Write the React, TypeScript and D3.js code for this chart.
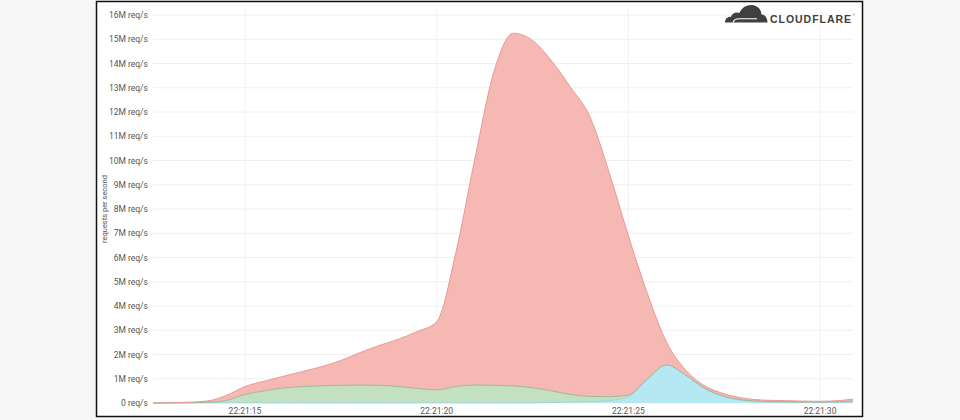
import React from "react";
import * as d3 from "d3";

// seconds after 22:21:00
const times: number[] = [12.6, 13.0, 13.5, 14.0, 14.5, 15.0, 15.5, 16.0, 16.5, 17.0, 17.5, 18.0, 18.5, 19.0, 19.5, 20.0, 20.5, 21.0, 21.5, 22.0, 22.5, 23.0, 23.5, 24.0, 24.5, 25.0, 25.5, 26.0, 26.5, 27.0, 27.5, 28.0, 28.5, 29.0, 29.5, 30.0, 30.5, 30.86];

// millions of requests per second, per layer (stacked bottom -> top)
const blueSeries: number[] = [0, 0, 0.005, 0.01, 0.01, 0.01, 0.01, 0.01, 0.01, 0.01, 0.01, 0.01, 0.01, 0.01, 0.01, 0.01, 0.01, 0.01, 0.01, 0.01, 0.01, 0.02, 0.04, 0.06, 0.1, 0.25, 0.97, 1.56, 1.14, 0.58, 0.26, 0.1, 0.05, 0.03, 0.03, 0.03, 0.03, 0.04];
const greenSeries: number[] = [0, 0.005, 0.005, 0.02, 0.09, 0.34, 0.49, 0.61, 0.67, 0.7, 0.72, 0.73, 0.72, 0.67, 0.59, 0.53, 0.67, 0.73, 0.72, 0.69, 0.62, 0.48, 0.31, 0.21, 0.16, 0.08, 0.03, 0.01, 0.01, 0.02, 0.02, 0.02, 0.02, 0.02, 0.01, 0.01, 0.02, 0.04];
const redSeries: number[] = [0, 0.005, 0.02, 0.05, 0.2, 0.33, 0.4, 0.48, 0.62, 0.79, 1.02, 1.34, 1.64, 1.95, 2.35, 2.81, 5.52, 9.36, 12.97, 14.55, 14.32, 13.6, 12.65, 11.53, 9.24, 6.57, 3.5, 0.93, 0.2, 0.1, 0.1, 0.08, 0.05, 0.05, 0.04, 0.03, 0.05, 0.08];

const yTicks: number[] = [0, 1, 2, 3, 4, 5, 6, 7, 8, 9, 10, 11, 12, 13, 14, 15, 16];
const xTickSeconds: number[] = [15, 20, 25, 30];
const yTitle = "requests per second";
const brand = "CLOUDFLARE";

const base = new Date(2020, 0, 1, 22, 21, 0).getTime();
const toDate = (s: number) => new Date(base + s * 1000);

type Row = { date: Date; blue: number; green: number; red: number };

export default function App() {
  const W = 960, H = 420;
  const x = d3.scaleTime().domain([toDate(times[0]), toDate(times[times.length - 1])]).range([153, 853]);
  const y = d3.scaleLinear().domain([0, 16]).range([403, 15]);
  const rows: Row[] = times.map((t, i) => ({ date: toDate(t), blue: blueSeries[i], green: greenSeries[i], red: redSeries[i] }));
  const keys = ["blue", "green", "red"] as const;
  const stack = d3.stack<Row>().keys(keys as unknown as string[]);
  const layers = stack(rows);
  const area = d3.area<any>().x((d) => x(d.data.date)).y0((d) => y(d[0])).y1((d) => y(d[1])).curve(d3.curveMonotoneX);
  const line = d3.line<any>().x((d) => x(d.data.date)).y((d) => y(d[1])).curve(d3.curveMonotoneX);
  const fills: Record<string, string> = { blue: "#b6e8f3", green: "#c3e0bf", red: "#f5b8b3" };
  const strokes: Record<string, string> = { blue: "#9fd3df", green: "#9fb89a", red: "#e99a94" };
  const fmt = d3.timeFormat("%H:%M:%S");
  const font = "Roboto, 'Liberation Sans', Arial, sans-serif";

  return (
    <div style={{ position: "absolute", left: 0, top: 0, width: W, height: H }}>
      <svg width={W} height={H} style={{ display: "block" }}>
        <rect x={0} y={0} width={W} height={H} fill="#f6f6f6" />
        <rect x={96.5} y={1.5} width={766} height={415} fill="#ffffff" stroke="#111" strokeWidth={1.5} />
        {/* grid */}
        {yTicks.map((v) => (
          <line key={"gy" + v} x1={153} x2={853} y1={y(v)} y2={y(v)} stroke="#f0f0f0" strokeWidth={1} />
        ))}
        {xTickSeconds.map((s) => (
          <line key={"gx" + s} x1={x(toDate(s))} x2={x(toDate(s))} y1={8} y2={403} stroke="#f2f2f2" strokeWidth={1} />
        ))}
        {/* areas */}
        {layers.map((layer) => (
          <path key={"a" + layer.key} d={area(layer as any) || ""} fill={fills[layer.key]} />
        ))}
        {layers.map((layer) => (
          <path key={"l" + layer.key} d={line(layer as any) || ""} fill="none" stroke={strokes[layer.key]} strokeWidth={1} />
        ))}
        {/* y labels */}
        {yTicks.map((v) => (
          <text key={"ty" + v} x={148} y={y(v) + 3} textAnchor="end" fontSize={8.5} fill="#555" fontFamily={font}>
            {v === 0 ? "0 req/s" : `${v}M req/s`}
          </text>
        ))}
        <text transform={`translate(107,209) rotate(-90)`} textAnchor="middle" fontSize={7.5} fill="#555" fontFamily={font}>
          {yTitle}
        </text>
        {/* x labels */}
        {xTickSeconds.map((s) => (
          <text key={"tx" + s} x={x(toDate(s))} y={414} textAnchor="middle" fontSize={8.5} fill="#555" fontFamily={font}>
            {fmt(toDate(s))}
          </text>
        ))}
        {/* logo */}
        <g>
          <path d="M725,22.5 C725,19 727.5,16.5 731,16.8 C732,13 736,11.5 739.5,13 C741.5,7.5 747,4.5 752.5,5 C758,5.8 761.5,10 761.5,14.5 C765,14.8 767.5,18 767.5,22.5 Z" fill="#404040" />
          <path d="M733,22.5 C734,19.8 736,18.8 739,18.8 L757,18.8" fill="none" stroke="#fff" strokeWidth={1.1} />
          <text x={770} y={23} fontSize={10.5} fontWeight="bold" fill="#404040" fontFamily="'Liberation Sans', Arial, sans-serif" textLength={81} lengthAdjust="spacing">
            {brand}
          </text>
          <text x={852.5} y={16} fontSize={3} fill="#404040" fontFamily="'Liberation Sans', Arial, sans-serif">®</text>
        </g>
      </svg>
    </div>
  );
}
